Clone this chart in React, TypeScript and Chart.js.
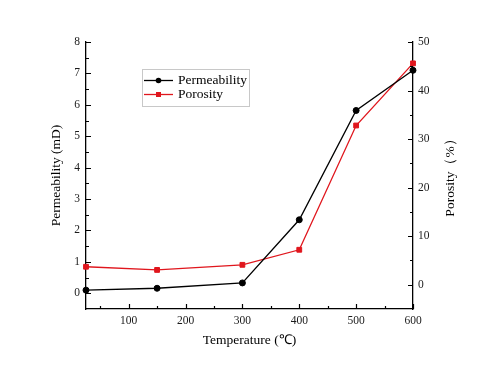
import React, { useEffect, useRef } from "react";
import { Chart, registerables } from "chart.js";

Chart.register(...registerables);

const temperatures = [25, 150, 300, 400, 500, 600];
const permeability = [0.1, 0.16, 0.33, 2.34, 5.82, 7.1];
const porosity = [3.7, 3.05, 4.1, 7.2, 32.8, 45.6];

const xTicks = [100, 200, 300, 400, 500, 600];
const xMinorTicks = [50, 150, 250, 350, 450, 550];
const leftTicks = [0, 1, 2, 3, 4, 5, 6, 7, 8];
const leftMinorTicks = [0.5, 1.5, 2.5, 3.5, 4.5, 5.5, 6.5, 7.5];
const rightTicks = [0, 10, 20, 30, 40, 50];
const rightMinorTicks = [5, 15, 25, 35, 45];

const rightTitle = "Porosity（%）";

const FONT = "'Liberation Serif', 'Times New Roman', serif";
const RED = "#e0161d";
const BLACK = "#000000";

const tickPlugin = {
  id: "innerTicks",
  afterDraw(chart: any) {
    const ctx = chart.ctx;
    const area = chart.chartArea;
    const xs = chart.scales.x;
    const yl = chart.scales.y;
    const yr = chart.scales.y1;
    ctx.save();
    ctx.strokeStyle = "#000";
    ctx.lineWidth = 1.2;
    ctx.beginPath();
    const major = 5;
    const minor = 3;
    xTicks.forEach((v) => {
      const px = Math.round(xs.getPixelForValue(v)) + 0.5;
      ctx.moveTo(px, area.bottom);
      ctx.lineTo(px, area.bottom - major);
    });
    xMinorTicks.forEach((v) => {
      const px = Math.round(xs.getPixelForValue(v)) + 0.5;
      ctx.moveTo(px, area.bottom);
      ctx.lineTo(px, area.bottom - minor);
    });
    leftTicks.forEach((v) => {
      const py = Math.round(yl.getPixelForValue(v)) + 0.5;
      ctx.moveTo(area.left, py);
      ctx.lineTo(area.left + major, py);
    });
    leftMinorTicks.forEach((v) => {
      const py = Math.round(yl.getPixelForValue(v)) + 0.5;
      ctx.moveTo(area.left, py);
      ctx.lineTo(area.left + minor, py);
    });
    rightTicks.forEach((v) => {
      const py = Math.round(yr.getPixelForValue(v)) + 0.5;
      ctx.moveTo(area.right, py);
      ctx.lineTo(area.right - major, py);
    });
    rightMinorTicks.forEach((v) => {
      const py = Math.round(yr.getPixelForValue(v)) + 0.5;
      ctx.moveTo(area.right, py);
      ctx.lineTo(area.right - minor, py);
    });
    ctx.stroke();

    // right axis title, reading bottom-to-top
    ctx.save();
    ctx.translate(450, (area.top + area.bottom) / 2 - 1);
    ctx.rotate(-Math.PI / 2);
    ctx.fillStyle = "#000";
    ctx.font = `13.5px ${FONT}`;
    ctx.textAlign = "center";
    ctx.textBaseline = "middle";
    ctx.fillText(rightTitle, 0, 0);
    ctx.restore();

    // legend
    const bx = 142, by = 69, bw = 107, bh = 37;
    ctx.fillStyle = "#ffffff";
    ctx.fillRect(bx, by, bw, bh);
    ctx.strokeStyle = "#c8c8c8";
    ctx.lineWidth = 1;
    ctx.strokeRect(bx + 0.5, by + 0.5, bw, bh);
    const rows = [
      { y: 80.5, color: BLACK, shape: "circle" },
      { y: 94.5, color: RED, shape: "rect" },
    ];
    chart.data.datasets.forEach((ds: any, i: number) => {
      const r = rows[i];
      ctx.strokeStyle = r.color;
      ctx.lineWidth = 1.3;
      ctx.beginPath();
      ctx.moveTo(144, r.y);
      ctx.lineTo(173, r.y);
      ctx.stroke();
      ctx.fillStyle = r.color;
      ctx.beginPath();
      if (r.shape === "circle") {
        ctx.arc(158.5, r.y, 2.8, 0, Math.PI * 2);
      } else {
        ctx.rect(156, r.y - 2.5, 5, 5);
      }
      ctx.fill();
      ctx.fillStyle = "#000";
      ctx.font = `13.5px ${FONT}`;
      ctx.textBaseline = "middle";
      ctx.textAlign = "left";
      ctx.fillText(ds.label, 178, r.y);
    });
    ctx.restore();
  },
};

export default function App() {
  const ref = useRef<HTMLCanvasElement | null>(null);
  useEffect(() => {
    document.body.style.margin = "0";
    const canvas = ref.current;
    if (!canvas) return;
    const tickFont = { family: FONT, size: 11.5 };
    const titleFont = { family: FONT, size: 13.5 };
    const chart = new Chart(canvas, {
      type: "line",
      data: {
        datasets: [
          {
            label: "Permeability",
            data: temperatures.map((t, i) => ({ x: t, y: permeability[i] })),
            borderColor: BLACK,
            backgroundColor: BLACK,
            borderWidth: 1.3,
            pointStyle: "circle",
            pointRadius: 3,
            pointBorderWidth: 1,
            yAxisID: "y",
            clip: false as any,
            order: 1,
          },
          {
            label: "Porosity",
            data: temperatures.map((t, i) => ({ x: t, y: porosity[i] })),
            borderColor: RED,
            backgroundColor: RED,
            borderWidth: 1.3,
            pointStyle: "rect",
            pointRadius: 3.4,
            pointBorderWidth: 1,
            yAxisID: "y1",
            clip: false as any,
            order: 2,
          },
        ],
      },
      options: {
        animation: false,
        responsive: false,
        devicePixelRatio: 1,
        layout: { padding: { top: 42, left: 0, right: 0, bottom: 0 } },
        plugins: {
          legend: { display: false },
          tooltip: { enabled: false },
        },
        scales: {
          x: {
            type: "linear",
            min: 25,
            max: 600,
            grid: { display: false, drawTicks: false },
            border: { display: true, color: "#000", width: 1.3 },
            ticks: { font: tickFont, color: "#1a1a1a", padding: 5, maxRotation: 0 },
            afterBuildTicks: (s: any) => {
              s.ticks = xTicks.map((v) => ({ value: v }));
            },
            afterFit: (s: any) => {
              s.height = 59;
            },
            title: {
              display: true,
              text: "Temperature (℃)",
              font: titleFont,
              color: "#000",
              padding: { top: 0, bottom: 19.5 },
            },
          },
          y: {
            type: "linear",
            position: "left",
            min: -0.5,
            max: 8,
            grid: { display: false, drawTicks: false },
            border: { display: true, color: "#000", width: 1.3 },
            ticks: { font: tickFont, color: "#1a1a1a", padding: 6 },
            afterBuildTicks: (s: any) => {
              s.ticks = leftTicks.map((v) => ({ value: v }));
            },
            afterFit: (s: any) => {
              s.width = 86;
            },
            title: {
              display: true,
              text: "Permeability (mD)",
              font: titleFont,
              color: "#000",
              padding: { top: 48, bottom: 0 },
            },
          },
          y1: {
            type: "linear",
            position: "right",
            min: -5,
            max: 50,
            grid: { display: false, drawTicks: false },
            border: { display: true, color: "#000", width: 1.3 },
            ticks: { font: tickFont, color: "#1a1a1a", padding: 5 },
            afterBuildTicks: (s: any) => {
              s.ticks = rightTicks.map((v) => ({ value: v }));
            },
            afterFit: (s: any) => {
              s.width = 67;
            },
            title: { display: false },
          },
        },
      } as any,
      plugins: [tickPlugin],
    });
    return () => chart.destroy();
  }, []);
  return (
    <div style={{ width: 480, height: 368, background: "#fff" }}>
      <canvas ref={ref} width={480} height={368} style={{ display: "block" }} />
    </div>
  );
}
